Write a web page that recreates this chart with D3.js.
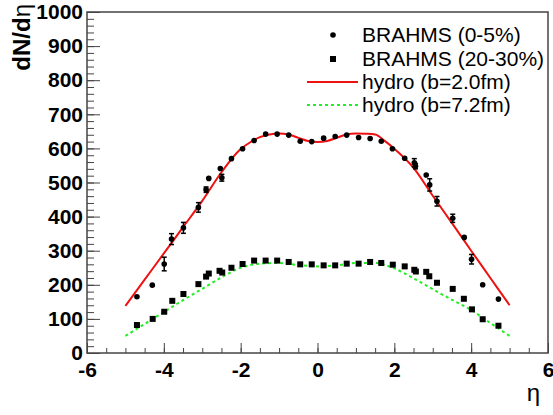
<!DOCTYPE html>
<html>
<head>
<meta charset="utf-8">
<script src="https://cdn.jsdelivr.net/npm/d3@7"></script>
<style>
  body { margin: 0; background: #fff; }
  text { font-family: "Liberation Sans", Arial, Helvetica, sans-serif; }
</style>
</head>
<body>
<script>
// BRAHMS 0-5% : eta, dN/deta, error (0 = no visible bar)
const central = [
  [-4.70, 165, 0], [-4.30, 199, 0], [-3.99, 261, 20], [-3.80, 334, 16], [-3.49, 367, 16],
  [-3.10, 427, 14], [-2.90, 479, 8], [-2.83, 512, 0], [-2.53, 541, 0], [-2.49, 514, 10],
  [-2.24, 570, 0], [-1.95, 599, 0], [-1.65, 623, 0], [-1.35, 642, 0], [-1.05, 642, 0],
  [-0.75, 639, 0], [-0.45, 621, 0], [-0.15, 620, 0], [0.16, 630, 0], [0.46, 635, 0],
  [0.76, 639, 0], [1.07, 632, 0], [1.37, 629, 0], [1.66, 621, 0], [1.95, 599, 0],
  [2.27, 571, 0], [2.52, 558, 12], [2.55, 548, 8], [2.83, 522, 0], [2.92, 493, 18],
  [3.11, 445, 14], [3.52, 395, 12], [3.82, 339, 0], [4.01, 275, 14], [4.30, 200, 0],
  [4.71, 158, 0]
];

// BRAHMS 20-30%
const semi = [
  [-4.70, 82], [-4.29, 100], [-3.99, 121], [-3.78, 153], [-3.49, 173], [-3.10, 202],
  [-2.90, 224], [-2.83, 233], [-2.55, 241], [-2.48, 236], [-2.24, 250], [-1.95, 261],
  [-1.65, 271], [-1.35, 271], [-1.05, 271], [-0.75, 267], [-0.45, 260], [-0.15, 260],
  [0.16, 257], [0.46, 257], [0.76, 262], [1.07, 262], [1.37, 267], [1.66, 264],
  [1.96, 259], [2.27, 254], [2.52, 244], [2.56, 239], [2.83, 238], [2.91, 225],
  [3.11, 206], [3.52, 188], [3.81, 159], [4.02, 128], [4.30, 99], [4.71, 80]
];

// hydro curves
const hydroEta2 = [-5, -4.5, -4, -3.5, -3, -2.5, -2, -1.75, -1.5, -1.25, -1, -0.75, -0.5, -0.25, 0,
  0.25, 0.5, 0.75, 1, 1.25, 1.5, 1.75, 2, 2.5, 3, 3.5, 4, 4.5, 5];
const hydroB2 = [138, 215, 292, 369, 446, 530, 598, 618, 633, 641, 644, 641, 631, 622, 619,
  622, 631, 641, 644, 643, 641, 622, 599, 543, 461, 381, 300, 220, 140];

const hydroEta7 = [-5, -4.5, -4, -3.5, -3, -2.5, -2, -1.5, -1, -0.5, 0, 0.5, 1, 1.5, 2, 2.5, 3, 3.5, 4, 4.5, 5];
const hydroB7 = [50, 85, 120, 155, 188, 222, 250, 262, 264, 258, 254, 257, 264, 264, 248, 219, 187, 156, 126, 88, 50];

const xTicks = [-6, -4, -2, 0, 2, 4, 6];
const yTicks = [0, 100, 200, 300, 400, 500, 600, 700, 800, 900, 1000];
const legendLabels = ["BRAHMS (0-5%)", "BRAHMS (20-30%)", "hydro (b=2.0fm)", "hydro (b=7.2fm)"];

const red = "#ee1111", green = "#22ee22";

const svg = d3.select("body").append("svg")
    .attr("width", 553)
    .attr("height", 415);

const pLeft = 87, pRight = 548, pTop = 12, pBottom = 353;

const x = d3.scaleLinear().domain([-6, 6]).range([pLeft, pRight]);
const y = d3.scaleLinear().domain([0, 1000]).range([pBottom, pTop]);

// minor ticks
svg.append("g")
    .attr("transform", "translate(0," + pBottom + ")")
    .call(d3.axisBottom(x).tickValues(d3.range(-6, 6.01, 0.5)).tickSize(-5).tickFormat(""))
    .call(g => g.select(".domain").remove())
    .call(g => g.selectAll("line").attr("stroke", "#444"));
svg.append("g")
    .attr("transform", "translate(" + pLeft + ",0)")
    .call(d3.axisLeft(y).tickValues(d3.range(0, 1001, 20)).tickSize(-7).tickFormat(""))
    .call(g => g.select(".domain").remove())
    .call(g => g.selectAll("line").attr("stroke", "#444"));

// major ticks + labels (plain hyphen for negatives)
svg.append("g")
    .attr("transform", "translate(0," + pBottom + ")")
    .call(d3.axisBottom(x).tickValues(xTicks).tickSize(-10).tickPadding(9).tickFormat(d => String(d)))
    .call(g => g.select(".domain").remove())
    .call(g => g.selectAll("line").attr("stroke", "#444"))
    .call(g => g.selectAll("text")
        .attr("font-family", "Liberation Sans, Arial, sans-serif")
        .attr("font-size", 21).attr("font-weight", "bold").attr("fill", "#000"));

svg.append("g")
    .attr("transform", "translate(" + pLeft + ",0)")
    .call(d3.axisLeft(y).tickValues(yTicks).tickSize(-13).tickPadding(4).tickFormat(d => String(d)))
    .call(g => g.select(".domain").remove())
    .call(g => g.selectAll("line").attr("stroke", "#444"))
    .call(g => g.selectAll("text")
        .attr("font-family", "Liberation Sans, Arial, sans-serif")
        .attr("font-size", 21).attr("font-weight", "bold").attr("fill", "#000"));

// frame
svg.append("rect")
    .attr("x", pLeft).attr("y", pTop)
    .attr("width", pRight - pLeft).attr("height", pBottom - pTop)
    .attr("fill", "none").attr("stroke", "#444").attr("stroke-width", 1.5);

// axis titles
const yl = svg.append("text")
    .attr("transform", "translate(30,4) rotate(-90)")
    .attr("text-anchor", "end")
    .attr("font-size", 24)
    .attr("font-weight", "bold");
yl.append("tspan").text("dN/d");
yl.append("tspan").attr("font-weight", "normal").text("η");

svg.append("text")
    .attr("x", 540).attr("y", 401)
    .attr("text-anchor", "end")
    .attr("font-size", 24)
    .text("η");

// hydro lines
const line = d3.line().curve(d3.curveMonotoneX)
    .x(d => x(d[0])).y(d => y(d[1]));

svg.append("path")
    .datum(d3.zip(hydroEta2, hydroB2))
    .attr("d", line)
    .attr("fill", "none").attr("stroke", red).attr("stroke-width", 2);

svg.append("path")
    .datum(d3.zip(hydroEta7, hydroB7))
    .attr("d", line)
    .attr("fill", "none").attr("stroke", green).attr("stroke-width", 2)
    .attr("stroke-dasharray", "3,3");

// error bars
const eb = svg.append("g").attr("stroke", "#000").attr("stroke-width", 1.5);
central.filter(d => d[2] > 0).forEach(d => {
  eb.append("line").attr("x1", x(d[0])).attr("x2", x(d[0]))
    .attr("y1", y(d[1] - d[2])).attr("y2", y(d[1] + d[2]));
  eb.append("line").attr("x1", x(d[0]) - 2.5).attr("x2", x(d[0]) + 2.5)
    .attr("y1", y(d[1] - d[2])).attr("y2", y(d[1] - d[2]));
  eb.append("line").attr("x1", x(d[0]) - 2.5).attr("x2", x(d[0]) + 2.5)
    .attr("y1", y(d[1] + d[2])).attr("y2", y(d[1] + d[2]));
});

// markers
svg.append("g").selectAll("circle")
    .data(central)
    .join("circle")
    .attr("cx", d => x(d[0]))
    .attr("cy", d => y(d[1]))
    .attr("r", 2.8)
    .attr("fill", "#000");

svg.append("g").selectAll("rect")
    .data(semi)
    .join("rect")
    .attr("x", d => x(d[0]) - 3)
    .attr("y", d => y(d[1]) - 3)
    .attr("width", 6).attr("height", 6)
    .attr("fill", "#000");

// legend
const leg = svg.append("g");
const rowY = [35, 59, 82, 105];
leg.append("circle").attr("cx", 333).attr("cy", rowY[0]).attr("r", 2.8).attr("fill", "#000");
leg.append("rect").attr("x", 330).attr("y", rowY[1] - 3).attr("width", 6).attr("height", 6).attr("fill", "#000");
leg.append("line").attr("x1", 307).attr("x2", 358).attr("y1", rowY[2]).attr("y2", rowY[2])
    .attr("stroke", red).attr("stroke-width", 2);
leg.append("line").attr("x1", 307).attr("x2", 358).attr("y1", rowY[3]).attr("y2", rowY[3])
    .attr("stroke", green).attr("stroke-width", 2).attr("stroke-dasharray", "3,3");
leg.selectAll("text")
    .data(legendLabels)
    .join("text")
    .attr("x", 362)
    .attr("y", (d, i) => rowY[i])
    .attr("dy", "0.35em")
    .attr("font-size", 21)
    .text(d => d);
</script>
</body>
</html>
